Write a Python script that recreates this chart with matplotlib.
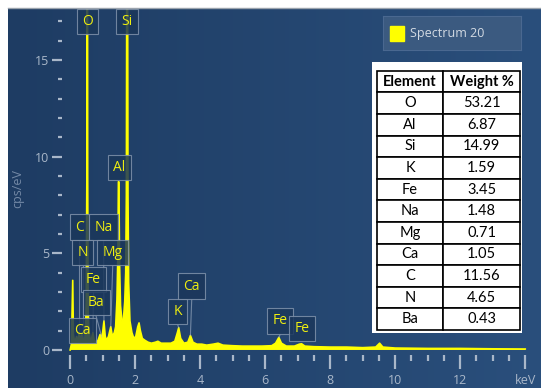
import numpy as np
import matplotlib.pyplot as plt
from matplotlib.colors import LinearSegmentedColormap

# spectrum (keV, cps/eV)
energy = [0.00, 0.04, 0.08, 0.10, 0.14, 0.20, 0.24, 0.28, 0.32, 0.36, 0.40, 0.44,
          0.47, 0.495, 0.515, 0.52, 0.535, 0.54, 0.555, 0.58, 0.62, 0.66, 0.70, 0.74,
          0.80, 0.86, 0.92, 0.96, 1.00, 1.04, 1.08, 1.12, 1.18, 1.25, 1.30, 1.36,
          1.40, 1.44, 1.47, 1.485, 1.50, 1.52, 1.55, 1.60, 1.64, 1.68, 1.71, 1.73,
          1.745, 1.765, 1.78, 1.80, 1.84, 1.90, 1.96, 2.02, 2.08, 2.12, 2.16, 2.22,
          2.30, 2.40, 2.50, 2.62, 2.70, 2.80, 2.95, 3.10, 3.22, 3.30, 3.34, 3.40,
          3.50, 3.62, 3.70, 3.78, 3.90, 4.05, 4.20, 4.40, 4.55, 4.70, 5.00, 5.30,
          5.60, 5.90, 6.20, 6.32, 6.42, 6.50, 6.65, 6.90, 7.05, 7.12, 7.22, 7.50,
          8.00, 8.50, 9.00, 9.40, 9.52, 9.62, 10.0, 11.0, 12.0, 13.0, 14.0]
cps = [0.0, 0.3, 3.6, 0.8, 0.4, 0.7, 0.4, 0.9, 0.5, 0.8, 0.6, 0.4,
       1.0, 2.5, 9.0, 22.0, 22.0, 9.0, 2.0, 1.0, 0.5, 0.6, 0.9, 0.5,
       0.4, 0.5, 0.8, 0.6, 0.9, 1.5, 0.7, 0.5, 0.7, 1.2, 0.7, 0.9,
       1.2, 2.6, 5.0, 8.7, 8.7, 4.5, 2.3, 1.4, 1.6, 2.5, 4.0, 8.0,
       22.0, 22.0, 8.0, 3.5, 1.5, 0.9, 0.6, 0.7, 1.2, 1.4, 1.0, 0.6,
       0.5, 0.4, 0.35, 0.4, 0.45, 0.35, 0.35, 0.35, 0.45, 0.9, 1.15, 0.6,
       0.35, 0.4, 0.75, 0.4, 0.3, 0.3, 0.25, 0.3, 0.35, 0.25, 0.22, 0.2,
       0.2, 0.2, 0.22, 0.35, 0.65, 0.35, 0.2, 0.2, 0.3, 0.32, 0.2, 0.17,
       0.15, 0.15, 0.12, 0.15, 0.35, 0.15, 0.1, 0.08, 0.08, 0.06, 0.05]

# peak labels: text, peak energy, box x, box y
lbl_text = ['O', 'Si', 'Al', 'C', 'Na', 'N', 'Mg', 'Fe', 'Ba', 'Ca', 'K', 'Ca', 'Fe', 'Fe']
lbl_e = [0.525, 1.755, 1.49, 0.28, 1.04, 0.39, 1.25, 0.70, 0.97, 0.34, 3.34, 3.70, 6.42, 7.10]
lbl_x = [0.54, 1.75, 1.51, 0.28, 1.03, 0.39, 1.31, 0.72, 0.80, 0.37, 3.31, 3.74, 6.46, 7.14]
lbl_y = [17.0, 17.0, 9.45, 6.35, 6.35, 5.05, 5.05, 3.65, 2.45, 1.0, 2.0, 3.3, 1.5, 1.1]

# table
tbl_elem = ['O', 'Al', 'Si', 'K', 'Fe', 'Na', 'Mg', 'Ca', 'C', 'N', 'Ba']
tbl_wt = ['53.21', '6.87', '14.99', '1.59', '3.45', '1.48', '0.71', '1.05', '11.56', '4.65', '0.43']

W, H = 541, 388
fig = plt.figure(figsize=(W / 100, H / 100), dpi=100, facecolor='white')

def box(x0, y0, x1, y1):
    # pixel box (top-left origin) -> figure rect
    return [x0 / W, 1 - y1 / H, (x1 - x0) / W, (y1 - y0) / H]

# dark panel with a slight gradient
bg = fig.add_axes(box(8, 8, 541, 388))
grad = np.linspace(0, 1, 256).reshape(1, -1)
cmap = LinearSegmentedColormap.from_list('panel', ['#1e3c63', '#2a4f7c'])
bg.imshow(grad, aspect='auto', cmap=cmap, extent=[0, 1, 0, 1])
bg.axis('off')
fig.add_artist(plt.Line2D([8 / W, 1], [1 - 7.5 / H, 1 - 7.5 / H], color='#9aa3ad', lw=1))

ax = fig.add_axes(box(62, 8, 535, 355))
ax.set_facecolor('none')
ax.fill_between(energy, cps, 0, color='#ffff00', lw=0, zorder=2)
ax.plot(energy, cps, color='#ffff00', lw=1.2, zorder=2)
ax.set_xlim(-0.25, 14.3)
ax.set_ylim(-0.26, 17.69)
for s in ax.spines.values():
    s.set_visible(False)

tick_c = '#a9b7c9'
ax.set_xticks(range(0, 15, 2))
ax.set_xticklabels(['0', '2', '4', '6', '8', '10', '12', 'keV'])
ax.set_xticks(np.arange(0, 14.3, 0.5), minor=True)
ax.set_yticks([0, 5, 10, 15])
ax.set_yticks(range(0, 18), minor=True)
ax.tick_params(which='major', axis='x', length=10, width=1.6, color=tick_c, pad=4,
               labelcolor=tick_c, labelsize=9)
ax.tick_params(which='minor', axis='x', length=4, width=1.6, color=tick_c)
ax.tick_params(which='major', axis='y', length=7, width=1.6, color=tick_c, pad=2,
               labelcolor=tick_c, labelsize=9)
ax.tick_params(which='minor', axis='y', length=3, width=1.6, color=tick_c)
for t in ax.get_xticklabels() + ax.get_yticklabels():
    t.set_fontfamily('Open Sans')
fig.text(18 / W, 1 - 188 / H, 'cps/eV', rotation=90, color='#7489a6', fontsize=9,
         family='Open Sans', ha='center', va='center')

# peak labels with pointers
for t, e, x, y in zip(lbl_text, lbl_e, lbl_x, lbl_y):
    peak = np.interp(e, energy, cps)
    if peak < y - 0.8:
        ax.plot([x, e], [y - 0.7, peak], color='#a8b6c8', lw=0.8, alpha=0.6, zorder=3)
    ax.text(x, y, t, color='#eeee10', fontsize=10, family='Open Sans', ha='center',
            va='center', zorder=4,
            bbox=dict(boxstyle='square,pad=0.38', fc='#1b375b', ec='#7f92ab', lw=0.8,
                      alpha=0.85))

# legend box
lg = fig.add_axes(box(383, 16, 521, 50))
lg.set_xlim(0, 1)
lg.set_ylim(0, 1)
lg.set_facecolor('#3b5a80')
for s in lg.spines.values():
    s.set_color('#4a6890')
lg.set_xticks([])
lg.set_yticks([])
lg.add_patch(plt.Rectangle((7 / 138, 9 / 34), 14 / 138, 15 / 34, color='#ffff00'))
lg.text(27 / 138, 0.5, 'Spectrum 20', color='#d3dae3', fontsize=9, family='Open Sans',
        va='center')

# table
tx = fig.add_axes(box(372, 62, 522, 333))
tx.set_facecolor('white')
tx.set_xticks([])
tx.set_yticks([])
for s in tx.spines.values():
    s.set_visible(False)
rows = [[e, w] for e, w in zip(tbl_elem, tbl_wt)]
tb = tx.table(cellText=rows, colLabels=['Element', 'Weight %'], cellLoc='center',
              bbox=[5 / 150, 3 / 271, 143 / 150, 259.3 / 271], colWidths=[66, 77])
tb.auto_set_font_size(False)
for (r, c), cell in tb.get_celld().items():
    cell.set_edgecolor('black')
    cell.set_linewidth(1.2)
    cell.get_text().set_fontfamily('Lato')
    cell.get_text().set_fontsize(10.5)
    if r == 0:
        cell.get_text().set_fontweight('bold')

fig.savefig('out.png', dpi=100, facecolor='white')
